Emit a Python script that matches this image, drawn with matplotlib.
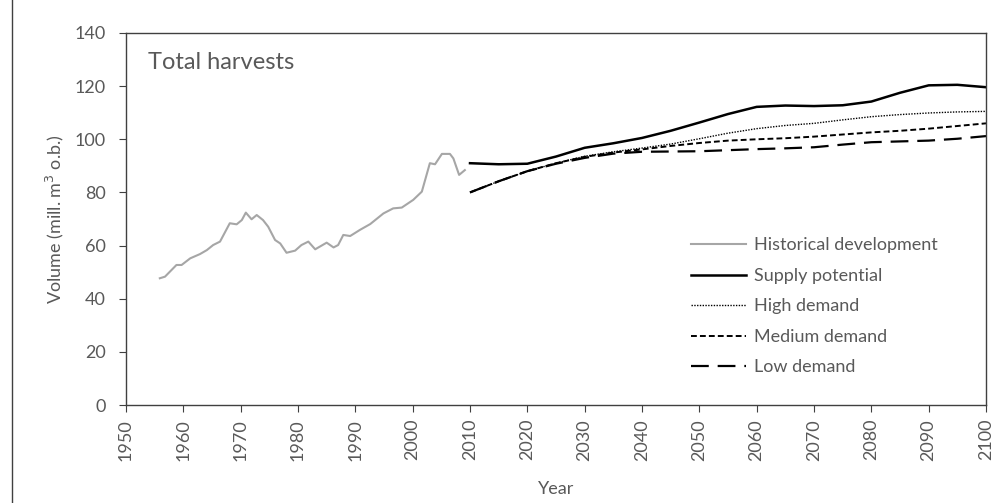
import matplotlib
matplotlib.use("Agg")
import matplotlib.pyplot as plt
from matplotlib.lines import Line2D

plt.rcParams['font.family'] = ['Lato', 'DejaVu Sans']

# historical harvests (mill. m3 o.b.)
hist_years = [1955.9, 1956.8, 1958.8, 1959.7, 1961.2, 1962.9, 1964.1, 1965.2, 1966.4,
              1968.1, 1969.3, 1970.2, 1970.9, 1971.9, 1972.8, 1973.9, 1974.8, 1976.0,
              1976.9, 1978.0, 1979.5, 1980.6, 1981.8, 1983.0, 1985.0, 1986.2, 1987.0,
              1987.9, 1989.1, 1990.8, 1992.6, 1994.9, 1996.6, 1998.1, 2000.1, 2001.6,
              2003.0, 2003.9, 2005.1, 2006.5, 2007.1, 2008.1, 2009.1]
hist_vals = [47.7, 48.3, 52.7, 52.7, 55.2, 56.8, 58.3, 60.2, 61.5,
             68.4, 68.0, 69.6, 72.4, 69.9, 71.5, 69.6, 67.1, 62.1,
             60.8, 57.3, 58.1, 60.2, 61.5, 58.6, 61.1, 59.3, 60.2,
             64.0, 63.6, 65.9, 68.1, 72.1, 74.0, 74.3, 77.2, 80.3,
             91.0, 90.6, 94.5, 94.5, 92.8, 86.6, 88.4]

# scenario projections
proj_years = [2010, 2015, 2020, 2025, 2030, 2035, 2040, 2045, 2050, 2055,
              2060, 2065, 2070, 2075, 2080, 2085, 2090, 2095, 2100]
supply = [91.0, 90.6, 90.8, 93.5, 96.8, 98.5, 100.5, 103.2, 106.3, 109.5,
          112.2, 112.7, 112.5, 112.8, 114.2, 117.5, 120.3, 120.5, 119.6]
high_demand = [80.0, 84.2, 88.0, 91.0, 93.6, 95.3, 96.7, 98.2, 100.2, 102.3,
               104.0, 105.2, 106.0, 107.3, 108.5, 109.3, 109.9, 110.3, 110.5]
medium_demand = [80.0, 84.2, 88.0, 91.0, 93.4, 95.0, 96.2, 97.5, 98.6, 99.5,
                 100.0, 100.4, 101.0, 101.8, 102.6, 103.2, 104.0, 105.0, 106.0]
low_demand = [80.0, 84.2, 88.0, 90.8, 93.0, 94.6, 95.3, 95.4, 95.5, 95.9,
              96.3, 96.6, 97.0, 98.0, 98.9, 99.2, 99.5, 100.2, 101.2]

fig = plt.figure(figsize=(10, 5.03), dpi=100)
ax = fig.add_axes([0.126, 0.1948, 0.86, 0.7396])

txt = '#595959'
ax.plot(hist_years, hist_vals, color='#a6a6a6', lw=1.5, label='Historical development')
ax.plot(proj_years, supply, color='black', lw=1.8, label='Supply potential')
ax.plot(proj_years, high_demand, color='black', lw=1.0, ls=(0, (1, 1)), label='High demand')
ax.plot(proj_years, medium_demand, color='black', lw=1.4, ls=(0, (3, 1.6)), label='Medium demand')
ax.plot(proj_years, low_demand, color='black', lw=1.6, ls=(0, (8, 4)), label='Low demand')

ax.set_xlim(1950, 2100)
ax.set_ylim(0, 140)
ax.set_xticks(range(1950, 2101, 10))
ax.set_yticks(range(0, 141, 20))
ax.tick_params(axis='x', labelrotation=90, direction='out', length=5, pad=5,
               labelsize=13, colors='#404040', labelcolor=txt)
ax.tick_params(axis='y', direction='out', length=5, pad=9.5, labelsize=13,
               colors='#404040', labelcolor=txt)
for s in ax.spines.values():
    s.set_color('#404040')
    s.set_linewidth(1.0)

ax.set_xlabel('Year', fontsize=13, color=txt, labelpad=15)
ax.set_ylabel('Volume (mill. m$^3$ o.b.)', fontsize=13, color=txt, labelpad=6)

ax.text(0.026, 0.92, 'Total harvests', transform=ax.transAxes,
        fontsize=17, color=txt, va='center', ha='left')

leg = ax.legend(loc='upper left', bbox_to_anchor=(0.638, 0.494), frameon=False,
                fontsize=13, handlelength=3.05, labelspacing=0.8, handletextpad=0.45)
for t in leg.get_texts():
    t.set_color(txt)

fig.add_artist(Line2D([0.012, 0.012], [0, 1], color='#404040', lw=1.0))

fig.savefig('out.png', dpi=100)
